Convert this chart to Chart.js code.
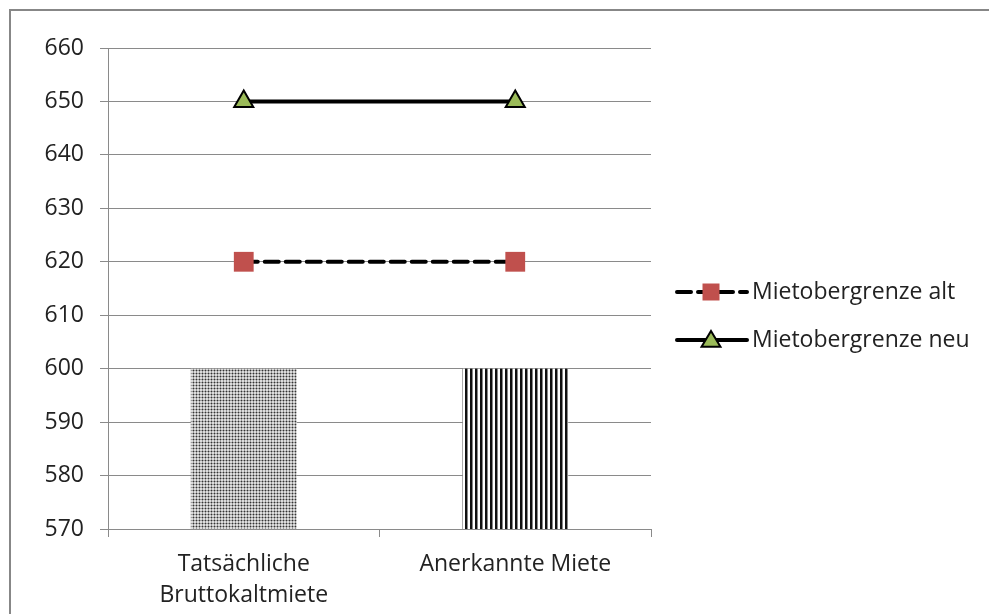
<!DOCTYPE html>
<html>
<head>
<meta charset="utf-8">
<script src="https://cdn.jsdelivr.net/npm/chart.js@4.4.1/dist/chart.umd.min.js"></script>
<style>
  html, body { margin: 0; padding: 0; background: #fff; overflow: hidden; }
  #wrap { position: relative; width: 989px; height: 614px; }
  #frame { position: absolute; left: 9px; top: 9px; width: 1000px; height: 700px;
           border-left: 2px solid #878787; border-top: 2px solid #878787; }
  canvas { position: absolute; left: 0; top: 0; }
</style>
</head>
<body>
<div id="wrap">
  <div id="frame"></div>
  <canvas id="c" width="989" height="614"></canvas>
</div>
<script>
// Rent values (EUR) per category
const categories = [['Tatsächliche', 'Bruttokaltmiete'], 'Anerkannte Miete'];
const rentValues = [600, 600];
const limitOld = [620, 620];
const limitNew = [650, 650];
const yTicks = [570, 580, 590, 600, 610, 620, 630, 640, 650, 660];

const FONT = 'Open Sans, Lato, sans-serif';
const GRID = '#8a8a8a';
const TEXT = '#222222';

// Fill patterns for the two bars
function dotPattern() {
  const p = document.createElement('canvas');
  p.width = 3; p.height = 3;
  const g = p.getContext('2d');
  g.fillStyle = '#dcdcdc'; g.fillRect(0, 0, 3, 3);
  g.fillStyle = '#9a9a9a'; g.fillRect(0, 1, 3, 1); g.fillRect(1, 0, 1, 3);
  g.fillStyle = '#333333'; g.fillRect(1, 1, 1, 1);
  return document.getElementById('c').getContext('2d').createPattern(p, 'repeat');
}
function stripePattern() {
  const p = document.createElement('canvas');
  p.width = 5; p.height = 5;
  const g = p.getContext('2d');
  g.fillStyle = '#ffffff'; g.fillRect(0, 0, 5, 5);
  g.fillStyle = '#111111'; g.fillRect(0, 0, 2, 5);
  g.fillStyle = '#888888'; g.fillRect(2, 0, 1, 5);
  return document.getElementById('c').getContext('2d').createPattern(p, 'repeat');
}

// Legend for the line series: line sample with marker, then label
const lineLegend = {
  id: 'lineLegend',
  afterDraw(chart) {
    const ctx = chart.ctx;
    const items = [
      { ds: chart.data.datasets[1], y: 292 },
      { ds: chart.data.datasets[2], y: 340 }
    ];
    const x0 = 677, x1 = 747, xm = 711;
    ctx.save();
    items.forEach(({ ds, y }) => {
      ctx.strokeStyle = ds.borderColor;
      ctx.lineWidth = ds.borderWidth;
      ctx.lineCap = 'round';
      ctx.setLineDash(ds.borderDash || []);
      ctx.beginPath(); ctx.moveTo(x0, y); ctx.lineTo(x1, y); ctx.stroke();
      ctx.setLineDash([]);
      ctx.fillStyle = ds.pointBackgroundColor;
      ctx.strokeStyle = ds.pointBorderColor;
      ctx.lineWidth = ds.pointBorderWidth;
      ctx.beginPath();
      const r = ds.legendRadius;
      if (ds.pointStyle === 'rect') {
        ctx.rect(xm - r, y - r, 2 * r, 2 * r);
      } else {
        ctx.moveTo(xm, y - r);
        ctx.lineTo(xm + r * 1.05, y + r * 0.75);
        ctx.lineTo(xm - r * 1.05, y + r * 0.75);
        ctx.closePath();
      }
      ctx.fill();
      if (ds.pointBorderWidth) ctx.stroke();
      ctx.fillStyle = TEXT;
      ctx.font = '23px ' + FONT;
      ctx.textBaseline = 'middle';
      ctx.textAlign = 'left';
      ctx.fillText(ds.label, 752, y);
    });
    ctx.restore();
  }
};

const chart = new Chart(document.getElementById('c'), {
  data: {
    labels: categories,
    datasets: [
      {
        type: 'bar',
        label: 'Miete',
        data: rentValues,
        backgroundColor: [dotPattern(), stripePattern()],
        borderWidth: 0,
        barPercentage: 0.39,
        categoryPercentage: 1,
        order: 3
      },
      {
        type: 'line',
        label: 'Mietobergrenze alt',
        data: limitOld,
        borderColor: '#000000',
        borderWidth: 4,
        borderDash: [14, 7],
        borderCapStyle: 'round',
        pointStyle: 'rect',
        pointRadius: 14,
        legendRadius: 8.5,
        pointBackgroundColor: '#C0504D',
        pointBorderColor: '#C0504D',
        pointBorderWidth: 0,
        order: 1
      },
      {
        type: 'line',
        label: 'Mietobergrenze neu',
        data: limitNew,
        borderColor: '#000000',
        borderWidth: 4,
        pointStyle: 'triangle',
        pointRadius: 11,
        legendRadius: 9,
        pointBackgroundColor: '#9BBB59',
        pointBorderColor: '#000000',
        pointBorderWidth: 2,
        order: 0
      }
    ]
  },
  options: {
    responsive: false,
    animation: false,
    layout: { padding: { top: 48, right: 338, left: 0, bottom: 0 } },
    plugins: { legend: { display: false }, tooltip: { enabled: false } },
    scales: {
      x: {
        type: 'category',
        offset: true,
        grid: { display: true, drawOnChartArea: false, drawTicks: true, tickLength: 8, color: GRID, offset: true },
        border: { display: false },
        ticks: { color: TEXT, font: { family: FONT, size: 23, lineHeight: 1.35 }, padding: 12, maxRotation: 0, autoSkip: false },
        afterFit(s) { s.height = 85; }
      },
      y: {
        min: 570, max: 660,
        afterBuildTicks(s) { s.ticks = yTicks.map(v => ({ value: v })); },
        grid: { color: GRID, lineWidth: 1, tickLength: 8 },
        border: { display: true, color: GRID, width: 1 },
        ticks: { color: TEXT, font: { family: FONT, size: 23 }, padding: 16 },
        afterFit(s) { s.width = 108; }
      }
    }
  },
  plugins: [lineLegend]
});
</script>
</body>
</html>
